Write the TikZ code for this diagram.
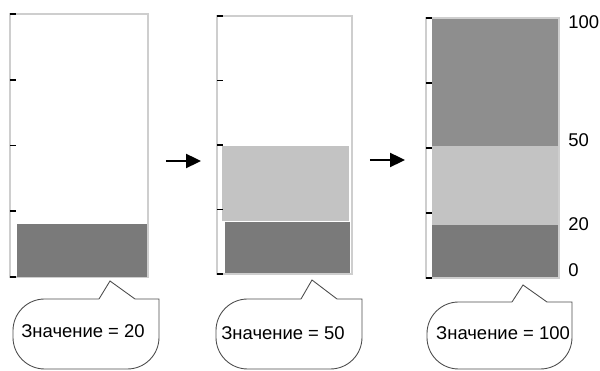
\documentclass[tikz,border=0pt]{standalone}
\usepackage{fontspec}
\setmainfont{Liberation Sans}
\usetikzlibrary{arrows.meta,fit}
\definecolor{lvframe}{RGB}{206,206,206}
\definecolor{lvdark}{RGB}{122,122,122}
\definecolor{lvmid}{RGB}{142,142,142}
\definecolor{lvlight}{RGB}{195,195,195}
\tikzset{
  lvbox/.style={draw=lvframe, line width=0.8pt, fill=white, inner sep=0pt},
  lvtick/.style={draw=black, line width=1pt},
  lvarr/.style={-{Triangle[length=8.5pt,width=8pt]}, line width=1.1pt, draw=black},
  lvcall/.style={draw=black!70, line width=0.5pt},
  lvtext/.style={inner sep=0pt},
  lvnum/.style={anchor=west, inner sep=0pt}
}
\begin{document}
\begin{tikzpicture}[x=0.02cm, y=-0.02cm, font=\fontsize{10.5}{12.6}\selectfont]
  \useasboundingbox (0,0) rectangle (600,371);
  % frames
  \node[lvbox, fit={(10,14) (148,277)}] (bar1) {};
  \node[lvbox, fit={(217,16) (352,274)}] (bar2) {};
  \node[lvbox, fit={(426,18) (559,278)}] (bar3) {};
  % levels
  \fill[lvdark] (17,224) rectangle (147,277);
  \fill[lvlight] (222,146) rectangle (349,221);
  \fill[lvdark] (225,222) rectangle (350,273);
  \fill[lvmid] (432,19) rectangle (558,146);
  \fill[lvlight] (432,146) rectangle (558,225);
  \fill[lvdark] (432,225) rectangle (558,277);
  % ticks
  \foreach \l/\t/\b in {10/14/277, 217/16/274, 426/18/278}
    \foreach \i in {0,...,4}
      \draw[lvtick] (\l,{\t+(\b-\t)*\i/4}) -- ++(6,0);
  % scale
  \node[lvnum] (n100) at (568,22) {100};
  \node[lvnum] (n50) at (568,140) {50};
  \node[lvnum] (n20) at (568,224) {20};
  \node[lvnum] (n0) at (568,270) {0};
  % arrows
  \coordinate (a1s) at (166,161);
  \coordinate (a1e) at (201,161);
  \coordinate (a2s) at (370,160);
  \coordinate (a2e) at (405,160);
  \draw[lvarr] (a1s) -- (a1e);
  \draw[lvarr] (a2s) -- (a2e);
  % callouts
  \foreach \L/\R/\T/\bl/\px/\py/\br in {13/159/299/99/110/281/135, 216/362/299/301/312/280/337, 427/572/302/512/523/285/547}
    \draw[lvcall] (\bl,\T) -- (\px,\py) -- (\br,\T) -- (\R,\T) [rounded corners=18]
      -- (\R,369) -- (\L,369) -- (\L,\T) -- (\bl,\T);
  \node[lvtext] (v1) at (83,331) {Значение = 20};
  \node[lvtext] (v2) at (283,333) {Значение = 50};
  \node[lvtext] (v3) at (503,333) {Значение = 100};
\end{tikzpicture}
\end{document}
